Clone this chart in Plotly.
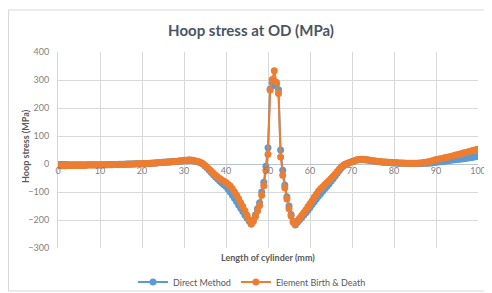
import plotly.graph_objects as go

# Positions along the cylinder (mm), sampled every 0.5 mm
length_mm = [i * 0.5 for i in range(201)]

direct_method = [
    -2, -2, -2, -2, -2, -3, -3, -3, -3, -3,
    -3, -3, -3, -3, -3, -3, -3, -3, -3, -3,
    -3, -3, -3, -3, -2, -2, -2, -2, -2, -1,
    -1, -1, -1, 0, 0, 0, 0, 1, 1, 1,
    1, 2, 2, 2, 3, 3, 4, 4, 5, 5,
    6, 6, 7, 7, 8, 9, 9, 10, 11, 11,
    12, 12, 13, 13, 12, 11, 9, 7, 4, 0,
    -7, -14, -22, -30, -38, -46, -54, -61, -68, -74,
    -80, -90, -100, -111, -122, -134, -146, -158, -170, -182,
    -193, -204, -214, -200, -182, -160, -138, -100, -65, -8,
    58, 268, 290, 280, 285, 265, 50, -22, -75, -117,
    -150, -180, -205, -218, -208, -200, -192, -183, -174, -165,
    -155, -145, -135, -125, -115, -106, -97, -88, -80, -71,
    -62, -53, -43, -33, -23, -13, -6, -1, 2, 5,
    8, 11, 13, 15, 16, 16, 15, 14, 13, 12,
    11, 10, 9, 8, 7, 6, 6, 5, 5, 4,
    4, 4, 3, 3, 3, 3, 2, 2, 2, 2,
    2, 2, 2, 2, 3, 3, 3, 4, 4, 5,
    6, 7, 8, 9, 10, 11, 12, 13, 14, 15,
    16, 17, 18, 19, 20, 21, 22, 23, 25, 26,
    27,
]

element_birth_death = [
    -6, -6, -6, -6, -6, -5, -5, -5, -5, -5,
    -5, -5, -5, -5, -4, -4, -4, -4, -4, -4,
    -4, -4, -3, -3, -3, -3, -3, -2, -2, -2,
    -2, -2, -1, -1, -1, 0, 0, 0, 1, 1,
    1, 2, 2, 2, 3, 3, 4, 4, 5, 5,
    6, 6, 7, 7, 8, 9, 9, 10, 11, 12,
    13, 13, 14, 14, 13, 12, 10, 8, 5, 1,
    -5, -12, -19, -26, -33, -40, -46, -52, -57, -62,
    -66, -72, -79, -88, -99, -111, -124, -138, -152, -167,
    -183, -199, -214, -205, -188, -168, -148, -112, -78, -22,
    35, 264, 302, 333, 292, 252, 25, -40, -85, -125,
    -160, -186, -208, -216, -204, -194, -184, -174, -164, -153,
    -142, -131, -119, -108, -97, -89, -82, -74, -67, -60,
    -52, -44, -36, -27, -18, -10, -4, 0, 3, 6,
    8, 11, 14, 16, 17, 17, 16, 15, 14, 13,
    12, 11, 10, 9, 8, 7, 7, 6, 6, 5,
    5, 5, 4, 4, 4, 3, 3, 3, 3, 3,
    3, 3, 4, 4, 5, 6, 7, 9, 11, 13,
    16, 17, 19, 20, 22, 23, 25, 27, 29, 31,
    33, 35, 37, 39, 41, 43, 45, 47, 49, 51,
    53,
]

x_ticks = [0, 10, 20, 30, 40, 50, 60, 70, 80, 90, 100]
y_ticks = [-300, -200, -100, 0, 100, 200, 300, 400]

FONT = "Lato"
OFF = 8  # page body margin in the browser
W, H = 492 - OFF, 293 - OFF
ML, MT = 58 - OFF, 52 - OFF
PW, PH = 420, 196
MR, MB = W - ML - PW, H - MT - PH


def px_to_paper_x(px):
    return (px - OFF - ML) / PW


def px_to_paper_y(py):
    return (MT + PH - (py - OFF)) / PH


fig = go.Figure()
fig.add_trace(go.Scatter(
    x=length_mm, y=direct_method, name="Direct Method",
    mode="lines+markers",
    line=dict(color="#5B9BD5", width=2),
    marker=dict(color="#5B9BD5", size=7),
))
fig.add_trace(go.Scatter(
    x=length_mm, y=element_birth_death, name="Element Birth & Death",
    mode="lines+markers",
    line=dict(color="#ED7D31", width=2),
    marker=dict(color="#ED7D31", size=7),
))

fig.update_layout(
    width=W, height=H,
    margin=dict(l=ML, r=MR, t=MT, b=MB, autoexpand=False),
    paper_bgcolor="white", plot_bgcolor="white",
    font=dict(family=FONT, color="#595959"),
    title=dict(
        text="<b>Hoop stress at OD (MPa)</b>",
        font=dict(family=FONT, size=15, color="#4A5564"),
        xref="container", yref="container",
        x=(251 - OFF) / W, y=1 - (31 - OFF) / H,
        xanchor="center", yanchor="middle",
    ),
    showlegend=True,
    legend=dict(
        orientation="h",
        x=px_to_paper_x(252), y=px_to_paper_y(282),
        xanchor="center", yanchor="middle",
        font=dict(family=FONT, size=9, color="#595959"),
        itemwidth=30, tracegroupgap=0,
        bgcolor="rgba(0,0,0,0)",
    ),
    xaxis=dict(
        range=[0, 100], tickvals=x_ticks,
        showgrid=True, gridcolor="#D9D9D9", gridwidth=1,
        zeroline=False, showline=False,
        anchor="free", position=3 / 7,
        ticks="", tickfont=dict(family=FONT, size=9, color="#7F7F7F"),
        fixedrange=True,
    ),
    yaxis=dict(
        range=[-300, 400], tickvals=y_ticks,
        showgrid=True, gridcolor="#D9D9D9", gridwidth=1,
        zeroline=True, zerolinecolor="#B8C4D4", zerolinewidth=1,
        showline=True, linecolor="#D0D7E0", linewidth=1,
        ticks="", ticklabelstandoff=6,
        tickfont=dict(family=FONT, size=9, color="#7F7F7F"),
        fixedrange=True,
    ),
    annotations=[
        dict(
            text="<b>Length of cylinder (mm)</b>",
            xref="paper", yref="paper",
            x=px_to_paper_x(268), y=px_to_paper_y(257),
            xanchor="center", yanchor="middle", showarrow=False,
            font=dict(family=FONT, size=9, color="#595959"),
        ),
        dict(
            text="<b>Hoop stress (MPa)</b>",
            xref="paper", yref="paper",
            x=px_to_paper_x(25), y=px_to_paper_y(146),
            xanchor="center", yanchor="middle", showarrow=False,
            textangle=-90,
            font=dict(family=FONT, size=9, color="#595959"),
        ),
    ],
    shapes=[
        dict(
            type="rect", xref="paper", yref="paper",
            x0=px_to_paper_x(8.5), x1=px_to_paper_x(491),
            y0=px_to_paper_y(291), y1=px_to_paper_y(10),
            line=dict(color="#D9D9D9", width=1), fillcolor="rgba(0,0,0,0)",
            layer="below",
        ),
    ],
)

fig.write_html("out.html")
